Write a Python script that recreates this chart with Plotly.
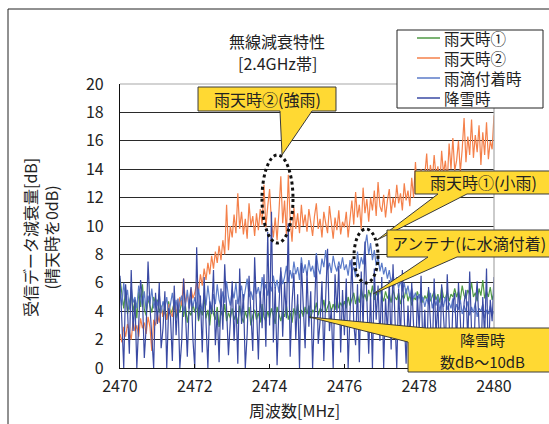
import numpy as np
import plotly.graph_objects as go

# Frequency grid [MHz], 0.05 MHz step
freq = np.round(np.arange(2470.0, 2480.0 + 1e-9, 0.05), 2)

# 雨天時① (小雨)
rain1 = [
    6.3, 5.0, 4.2, 5.5, 3.8, 4.6, 5.2, 4.0, 4.8, 3.5, 5.4, 4.3, 5.9, 4.1, 3.7, 4.9, 4.4, 3.9, 5.0, 4.5,
    4.8, 3.9, 4.4, 3.6, 4.2, 3.4, 4.7, 3.8, 4.1, 4.6, 3.5, 4.3, 3.9, 4.8, 3.6, 4.4, 3.2, 4.0, 3.7, 4.5,
    3.9, 4.6, 3.3, 4.2, 3.7, 5.0, 3.5, 4.1, 3.0, 4.4, 3.8, 3.4, 4.3, 2.9, 4.0, 3.6, 4.5, 3.3, 3.9, 3.5,
    4.2, 3.4, 3.8, 3.1, 4.4, 3.6, 3.2, 4.0, 3.5, 4.3, 3.0, 3.7, 4.1, 3.4, 3.9, 3.2, 4.5, 3.6, 3.3, 4.0,
    3.5, 4.2, 3.7, 3.1, 4.3, 3.8, 3.3, 4.0, 3.6, 4.4, 3.4, 3.9, 3.2, 4.2, 3.7, 4.5, 3.5, 4.1, 3.6, 4.3,
    3.8, 4.4, 3.5, 4.1, 3.9, 4.6, 3.7, 4.2, 4.0, 4.8, 3.9, 4.3, 4.7, 4.0, 4.5, 4.1, 4.9, 4.2, 4.6, 4.3,
    4.7, 4.2, 5.0, 4.4, 4.8, 5.3, 4.5, 5.1, 4.6, 5.6, 4.9, 5.2, 4.7, 5.5, 5.0, 5.8, 4.8, 5.3, 5.0, 5.6,
    5.1, 4.7, 5.4, 4.9, 5.2, 4.6, 5.5, 5.0, 4.8, 5.3, 4.5, 5.1, 4.9, 5.6, 4.7, 5.2, 4.4, 5.0, 4.8, 5.4,
    4.9, 5.3, 4.6, 5.1, 4.8, 5.5, 4.7, 5.0, 5.4, 4.8, 5.2, 4.6, 5.7, 5.0, 4.9, 5.4, 4.7, 5.2, 5.0, 5.6,
    5.0, 5.4, 4.8, 5.8, 5.1, 4.9, 5.5, 5.2, 6.0, 5.0, 5.3, 4.7, 5.6, 5.1, 6.2, 4.9, 5.4, 5.0, 5.7, 4.8,
    5.3,
]

# 雨天時② (強雨)
rain2 = [
    2.4, 1.8, 2.9, 2.2, 3.1, 2.5, 2.0, 3.3, 2.6, 3.0, 2.2, 3.5, 2.8, 3.2, 2.4, 3.6, 2.9, 1.2, 3.4, 3.0,
    3.8, 3.2, 4.3, 3.6, 4.0, 3.4, 4.5, 3.9, 3.6, 4.8, 4.1, 3.7, 5.0, 4.4, 6.3, 4.6, 5.2, 4.2, 5.6, 4.9,
    5.3, 6.0, 5.4, 6.6, 5.8, 7.0, 6.2, 7.4, 6.6, 7.9, 7.0, 8.2, 7.4, 8.6, 7.6, 9.0, 8.0, 11.5, 8.3, 10.0,
    9.2, 10.8, 9.5, 12.3, 9.8, 11.0, 9.4, 10.5, 9.1, 11.6, 10.0, 10.7, 9.3, 10.9, 9.7, 11.2, 10.1, 12.9, 9.9, 11.4,
    12.6, 10.3, 9.2, 10.6, 9.0, 11.0, 13.5, 10.2, 11.8, 9.4, 13.6, 10.4, 8.9, 11.3, 9.8, 10.9, 9.5, 11.5, 10.0, 10.8,
    9.6, 11.2, 10.1, 9.3, 10.7, 11.6, 9.8, 10.5, 9.2, 11.0, 10.2, 9.5, 11.4, 10.0, 9.1, 10.6, 9.7, 11.1, 9.4, 10.3,
    9.9, 11.0, 9.2, 10.5, 11.8, 10.1, 12.4, 10.6, 11.5, 9.8, 12.7, 10.9, 11.9, 10.3, 12.0, 11.1, 12.5, 10.7, 13.1, 11.4,
    11.0, 12.2, 10.6, 11.8, 12.6, 10.9, 12.0, 11.3, 12.9, 11.6, 12.3, 11.1, 13.0, 11.8, 12.5, 11.4, 13.4, 12.0, 14.5, 12.3,
    12.8, 14.0, 12.4, 13.6, 15.1, 12.9, 14.3, 13.2, 15.0, 13.5, 14.2, 12.8, 15.3, 13.7, 14.6, 13.1, 15.8, 14.0, 16.2, 13.9,
    14.6, 16.0, 13.8, 15.4, 17.6, 14.5, 16.3, 15.0, 17.5, 14.8, 16.4, 15.2, 17.1, 14.3, 16.6, 15.0, 17.3, 14.7, 16.0, 15.4,
    17.8,
]

# 雨滴付着時
droplet = [
    5.2, 4.4, 6.0, 4.8, 5.5, 4.1, 5.7, 4.6, 5.0, 4.2, 5.8, 4.9, 4.3, 5.4, 4.0, 5.1, 4.5, 5.6, 4.2, 4.9,
    4.4, 5.2, 3.9, 4.7, 4.2, 5.0, 3.8, 4.5, 5.3, 4.1, 4.8, 3.7, 4.6, 5.1, 4.0, 4.4, 5.5, 4.2, 4.9, 4.3,
    5.0, 4.2, 5.6, 4.6, 4.0, 5.3, 4.4, 5.8, 4.7, 4.1, 5.2, 4.5, 5.9, 4.8, 4.3, 5.4, 4.6, 6.1, 5.0, 4.4,
    5.5, 4.9, 6.0, 4.5, 5.3, 5.8, 4.7, 5.6, 6.3, 5.0, 5.4, 4.8, 6.1, 5.2, 5.7, 4.9, 6.4, 5.3, 5.9, 5.1,
    6.0, 5.4, 6.5, 5.6, 6.2, 5.3, 6.8, 5.9, 6.4, 7.2, 6.0, 6.9, 6.3, 7.5, 6.6, 7.1, 6.2, 7.8, 6.7, 7.3,
    6.5, 7.6, 6.8, 7.2, 6.4, 8.1, 7.0, 6.6, 7.7, 7.1, 8.3, 6.9, 7.4, 6.7, 7.9, 7.2, 6.8, 7.5, 7.0, 7.8,
    6.9, 7.3, 6.5, 7.6, 6.8, 7.1, 6.4, 8.2, 7.0, 7.8, 7.3, 8.6, 9.4, 8.0, 8.8, 7.6, 8.3, 7.2, 7.9, 6.8,
    7.4, 6.6, 7.1, 6.3, 6.9, 6.0, 6.6, 5.8, 6.4, 5.6, 6.2, 5.4, 6.0, 5.2, 5.8, 5.0, 5.6, 4.9, 5.3, 4.7,
    5.2, 4.6, 5.0, 4.3, 4.9, 4.5, 5.3, 4.2, 4.8, 4.4, 5.1, 4.0, 4.7, 4.3, 5.0, 4.1, 4.6, 4.2, 4.9, 3.9,
    4.5, 4.1, 4.8, 3.8, 4.4, 4.0, 4.7, 3.7, 4.3, 3.9, 4.6, 3.6, 4.2, 4.0, 4.5, 3.5, 4.1, 3.8, 4.4, 3.7,
    4.0,
]

# 降雪時
snow = [
    6.5, 3.2, 0.0, 5.9, 4.1, 1.0, 6.9, 2.6, 4.8, 0.0, 3.5, 6.2, 5.0, 0.7, 2.9, 7.5, 4.4, 1.8, 0.0, 5.3,
    3.1, 6.0, 1.4, 2.8, 5.4, 0.0, 4.2, 3.6, 0.5, 5.8, 2.3, 4.9, 0.0, 1.9, 6.3, 3.9, 0.8, 4.5, 5.7, 2.0,
    0.0, 8.5, 3.4, 5.1, 1.1, 6.4, 2.5, 0.0, 4.7, 3.8, 6.9, 1.6, 4.0, 0.4, 5.6, 2.7, 7.3, 4.2, 0.9, 3.3,
    6.1, 1.9, 4.8, 0.3, 7.0, 3.1, 5.2, 0.0, 2.4, 6.5, 4.1, 1.2, 7.8, 3.6, 0.6, 5.4, 2.8, 6.6, 1.5, 9.6,
    3.0, 11.0, 1.8, 5.7, 0.2, 4.3, 7.1, 2.2, 6.0, 3.5, 10.2, 0.8, 4.6, 6.7, 2.0, 5.2, 0.0, 7.4, 3.7, 1.4,
    6.8, 2.9, 5.4, 0.0, 4.0, 7.9, 1.7, 3.3, 6.1, 0.5, 5.0, 8.4, 2.6, 4.2, 0.0, 6.6, 3.9, 7.2, 1.1, 5.5,
    2.3, 6.3, 0.0, 4.7, 7.7, 3.2, 1.6, 5.9, 0.4, 6.8, 2.8, 8.9, 4.5, 1.0, 5.3, 0.0, 7.0, 3.4, 5.8, 1.9,
    6.4, 0.0, 4.9, 2.5, 6.2, 1.3, 7.3, 3.8, 0.0, 5.6, 2.1, 6.9, 4.0, 0.3, 4.4, 1.9, 6.0, 3.0, 0.0, 5.1,
    2.7, 6.5, 1.0, 4.1, 0.0, 5.7, 3.2, 0.7, 6.3, 2.2, 4.8, 0.0, 5.9, 3.6, 1.4, 6.6, 2.9, 0.0, 4.5, 5.3,
    1.6, 6.0, 3.4, 0.0, 4.6, 5.5, 1.9, 6.8, 2.6, 0.0, 4.3, 6.1, 3.0, 0.6, 5.0, 2.1, 7.0, 0.0, 4.8, 3.3,
    6.4,
]

series_names = ["雨天時①", "雨天時②", "雨滴付着時", "降雪時"]
series_values = [rain1, rain2, droplet, snow]
series_colors = ["#4f9a44", "#f4804a", "#5b7bc9", "#3a4aa3"]

x_ticks = [2470, 2472, 2474, 2476, 2478, 2480]
y_ticks = [0, 2, 4, 6, 8, 10, 12, 14, 16, 18, 20]

FONT = "Noto Sans CJK JP"
W, H = 549, 424
L, R, T, B = 120, 494, 84, 368  # plot area edges in pixels


def px(x):
    return (x - L) / (R - L)


def py(y):
    return (B - y) / (B - T)


def poly(points):
    return "M " + " L ".join(f"{px(a):.4f},{py(b):.4f}" for a, b in points) + " Z"


fig = go.Figure()
for name, vals, col in zip(series_names, series_values, series_colors):
    fig.add_trace(go.Scatter(x=freq, y=vals, mode="lines", name=name,
                             line=dict(color=col, width=1.2), showlegend=False))

shapes = []
# outer frame
shapes.append(dict(type="rect", xref="paper", yref="paper",
                   x0=px(8), x1=px(560), y0=py(9), y1=py(440),
                   line=dict(color="#222", width=1), layer="below"))
# top and right plot border (light gray)
shapes.append(dict(type="line", xref="paper", yref="paper", x0=0, x1=1, y0=1, y1=1,
                   line=dict(color="#a8a8a8", width=1.2), layer="above"))
shapes.append(dict(type="line", xref="paper", yref="paper", x0=1, x1=1, y0=0, y1=1,
                   line=dict(color="#a8a8a8", width=1.2), layer="above"))

# callouts (box + pointer as one outline)
callouts = [
    [(198, 87), (336, 87), (336, 111), (312, 111), (282, 155), (280, 111), (198, 111)],
    [(415, 171), (560, 171), (560, 194), (467, 194), (377, 240), (438, 194), (415, 194)],
    [(387, 230), (560, 230), (560, 257), (457, 257), (373, 294), (428, 257), (387, 257)],
    [(408, 342), (309, 317), (426, 328), (560, 328), (560, 372), (408, 372)],
]
for pts in callouts:
    shapes.append(dict(type="path", xref="paper", yref="paper", path=poly(pts),
                       fillcolor="#ffd933", line=dict(color="#3a3a3a", width=1), layer="above"))

# dotted ellipses
for x0, x1, y0, y1 in [(262, 293, 155, 243), (354, 378, 229, 283)]:
    shapes.append(dict(type="circle", xref="paper", yref="paper",
                       x0=px(x0), x1=px(x1), y0=py(y1), y1=py(y0),
                       line=dict(color="#111", width=3, dash="dot"), layer="above"))

# legend box with line samples
LEG_X0, LEG_X1, LEG_Y0, LEG_Y1 = 397, 543, 30, 108
shapes.append(dict(type="rect", xref="paper", yref="paper",
                   x0=px(LEG_X0), x1=px(LEG_X1), y0=py(LEG_Y1), y1=py(LEG_Y0),
                   fillcolor="white", line=dict(color="#222", width=1), layer="above"))
legend_rows = [38, 58, 78, 98]
for yy, col in zip(legend_rows, series_colors):
    shapes.append(dict(type="line", xref="paper", yref="paper",
                       x0=px(417), x1=px(440), y0=py(yy), y1=py(yy),
                       line=dict(color=col, width=1.5), layer="above"))

ann_font = dict(family=FONT, size=16, color="#222")
small_font = dict(family=FONT, size=15, color="#222")
annotations = [
    dict(text="無線減衰特性", x=px(277), y=py(41)),
    dict(text="[2.4GHz帯]", x=px(277), y=py(63)),
    dict(text="周波数[MHz]", x=px(294), y=py(410)),
    dict(text="受信データ減衰量[dB]<br>(晴天時を0dB)", x=px(41), y=py(238), textangle=-90),
    dict(text="雨天時②(強雨)", x=px(267), y=py(99)),
    dict(text="雨天時①(小雨)", x=px(483), y=py(182)),
    dict(text="アンテナ(に水滴付着)", x=px(469), y=py(243)),
    dict(text="降雪時", x=px(482), y=py(339), font=small_font),
    dict(text="数dB～10dB", x=px(482), y=py(361), font=small_font),
]
for a in annotations:
    a.update(xanchor="center")
for yy, name in zip(legend_rows, series_names):
    annotations.append(dict(text=name, x=px(442), y=py(yy), xanchor="left",
                            font=dict(family=FONT, size=15.5, color="#222")))
for a in annotations:
    a.setdefault("font", ann_font)
    a.update(xref="paper", yref="paper", showarrow=False, yanchor="middle")

fig.update_layout(
    width=W, height=H,
    margin=dict(l=L, r=W - R, t=T, b=H - B),
    paper_bgcolor="white", plot_bgcolor="white",
    font=dict(family=FONT, size=16, color="#222"),
    shapes=shapes, annotations=annotations,
    showlegend=False,
    xaxis=dict(range=[2470, 2480], tickvals=x_ticks, ticktext=[str(v) for v in x_ticks],
               showgrid=False, zeroline=False, showline=True, linecolor="#111", linewidth=1.2,
               ticks="inside", ticklen=4, tickcolor="#111", ticklabelstandoff=4,
               tickfont=dict(family=FONT, size=16, color="#222")),
    yaxis=dict(range=[0, 20], tickvals=y_ticks, showgrid=True, gridcolor="#2a2a2a", gridwidth=1,
               zeroline=False, showline=True, linecolor="#111", linewidth=1.2,
               ticks="", ticklabelstandoff=12,
               tickfont=dict(family=FONT, size=16, color="#222")),
)

fig.write_html("out.html")
